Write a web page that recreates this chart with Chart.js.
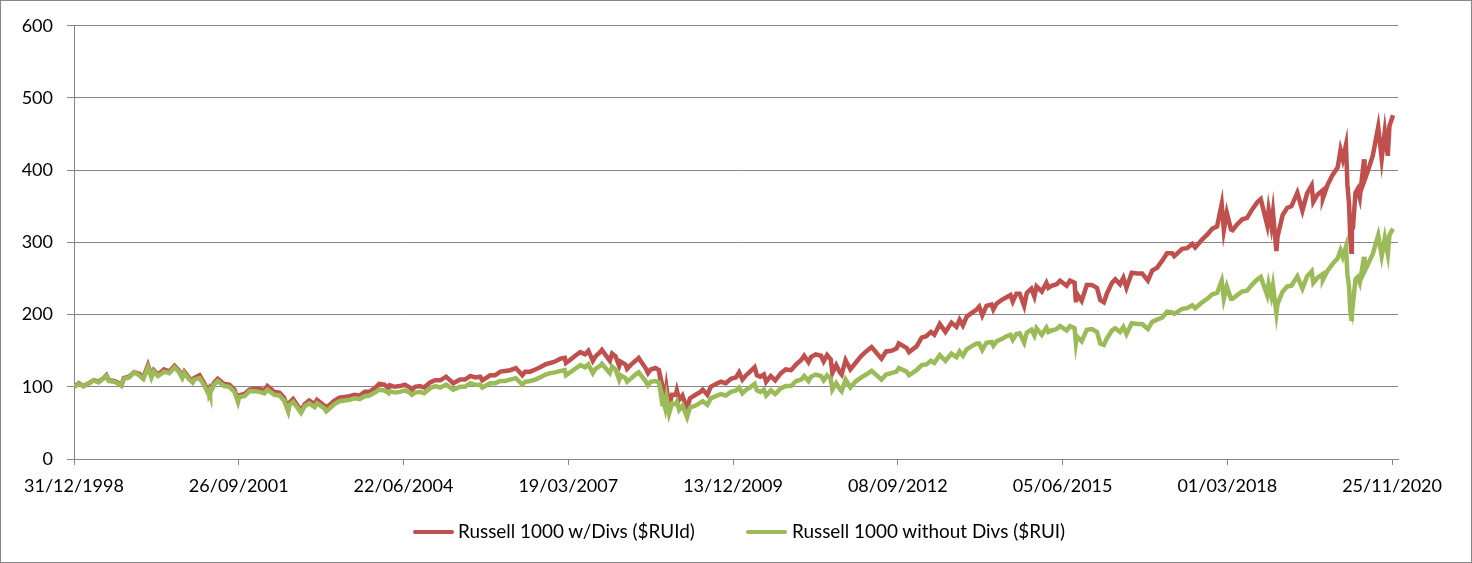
<!DOCTYPE html>
<html>
<head>
  <title>Russell 1000 with and without dividends</title>
  <script src="https://cdn.jsdelivr.net/npm/chart.js"></script>
  <style>
    body { margin: 0; background: #fff; }
    #frame {
      position: relative;
      width: 1472px; height: 563px;
      box-sizing: border-box;
      border: 1px solid #868686;
      background: #fff;
      font-family: Lato, sans-serif;
    }
    #chart { position: absolute; left: 0; top: 0; }
    .item { position: absolute; top: 518px; height: 24px; font-size: 18.9px; color: #000; white-space: nowrap; line-height: 24px; }
    .swatch { position: absolute; top: 11px; width: 41px; height: 3.5px; border-radius: 2px; }
  </style>
</head>
<body>
  <div id="frame">
    <canvas id="chart" width="1470" height="561"></canvas>
    <div class="item" style="left:412px"><span class="swatch" style="left:0;background:#C0504D"></span><span style="padding-left:45px">Russell 1000 w/Divs ($RUId)</span></div>
    <div class="item" style="left:745px"><span class="swatch" style="left:0;background:#9BBB59"></span><span style="padding-left:46px">Russell 1000 without Divs ($RUI)</span></div>
  </div>

  <script>
    // dates of the readings
    const dates = [
      '1998-12-31','1999-01-29','1999-02-26','1999-03-31','1999-04-30','1999-05-28','1999-06-30','1999-07-16','1999-07-30','1999-08-31','1999-09-30','1999-10-15','1999-10-29','1999-11-30','1999-12-31',
      '2000-01-31','2000-02-25','2000-03-24','2000-04-14','2000-04-28','2000-05-24','2000-06-30','2000-07-31','2000-09-01','2000-09-29','2000-10-18','2000-10-31','2000-11-30','2000-12-20','2000-12-29',
      '2001-01-31','2001-02-28','2001-03-22','2001-03-30','2001-04-04','2001-04-30','2001-05-21','2001-06-29','2001-07-31','2001-08-31','2001-09-21','2001-09-28','2001-10-31','2001-11-30','2001-12-31',
      '2002-01-31','2002-02-28','2002-03-19','2002-04-30','2002-05-31','2002-06-28','2002-07-23','2002-07-31','2002-08-22','2002-09-30','2002-10-09','2002-10-31','2002-11-27','2002-12-31',
      '2003-01-14','2003-02-28','2003-03-11','2003-03-31','2003-04-30','2003-05-30','2003-06-30','2003-07-31','2003-08-29','2003-09-30','2003-10-31','2003-11-28','2003-12-31',
      '2004-01-26','2004-02-27','2004-03-24','2004-03-31','2004-04-30','2004-05-31','2004-06-30','2004-07-30','2004-08-12','2004-08-31','2004-09-30','2004-10-25','2004-11-30','2004-12-31',
      '2005-01-31','2005-03-07','2005-04-20','2005-05-31','2005-06-30','2005-08-02','2005-08-31','2005-09-30','2005-10-13','2005-11-30','2005-12-30',
      '2006-01-31','2006-02-28','2006-03-31','2006-05-05','2006-06-13','2006-06-30','2006-07-31','2006-08-31','2006-09-29','2006-10-31','2006-11-30','2006-12-29',
      '2007-01-31','2007-02-26','2007-03-05','2007-03-30','2007-04-30','2007-05-31','2007-06-29','2007-07-19','2007-08-15','2007-08-31','2007-09-28','2007-10-09','2007-11-26','2007-12-10','2007-12-31',
      '2008-01-22','2008-01-31','2008-02-29','2008-03-10','2008-03-31','2008-04-30','2008-05-19','2008-06-30','2008-07-15','2008-07-31','2008-08-29','2008-09-19','2008-09-29','2008-10-10','2008-10-13','2008-10-27','2008-11-04','2008-11-20','2008-12-08','2008-12-31',
      '2009-01-06','2009-01-20','2009-02-09','2009-03-09','2009-03-26','2009-04-30','2009-05-29','2009-06-12','2009-07-10','2009-07-31','2009-08-31','2009-09-30','2009-10-30','2009-11-30','2009-12-31',
      '2010-01-19','2010-02-08','2010-02-26','2010-03-31','2010-04-23','2010-05-07','2010-05-28','2010-06-18','2010-07-02','2010-07-30','2010-08-26','2010-09-30','2010-10-29','2010-11-30','2010-12-31',
      '2011-01-31','2011-02-18','2011-03-16','2011-03-31','2011-04-29','2011-05-31','2011-06-16','2011-07-07','2011-07-29','2011-08-08','2011-08-31','2011-09-22','2011-10-03','2011-10-27','2011-11-25','2011-12-30',
      '2012-01-31','2012-02-29','2012-04-02','2012-06-01','2012-06-29','2012-07-31','2012-08-31','2012-09-14','2012-10-31','2012-11-15','2012-12-31',
      '2013-01-31','2013-02-28','2013-03-28','2013-04-18','2013-05-21','2013-06-24','2013-07-31','2013-08-30','2013-09-18','2013-10-08','2013-10-31','2013-11-29','2013-12-31',
      '2014-01-15','2014-02-03','2014-02-28','2014-03-31','2014-04-11','2014-04-30','2014-05-30','2014-06-30','2014-07-24','2014-08-07','2014-08-29','2014-09-18','2014-10-15','2014-10-31','2014-11-28','2014-12-16','2014-12-29',
      '2015-01-30','2015-02-27','2015-03-11','2015-03-31','2015-04-30','2015-05-21','2015-06-30','2015-07-20','2015-08-17','2015-08-25','2015-08-31','2015-09-29','2015-10-30','2015-11-30','2015-12-31',
      '2016-01-20','2016-02-11','2016-02-29','2016-03-31','2016-04-20','2016-05-19','2016-06-08','2016-06-27','2016-07-29','2016-08-31','2016-09-30','2016-11-04','2016-11-30','2016-12-30',
      '2017-01-31','2017-02-28','2017-03-31','2017-04-13','2017-05-31','2017-06-30','2017-07-31','2017-08-18','2017-09-29','2017-10-31','2017-11-30','2017-12-29',
      '2018-01-26','2018-02-08','2018-02-26','2018-03-23','2018-04-02','2018-04-30','2018-05-31','2018-06-29','2018-07-31','2018-08-31','2018-09-20','2018-10-29','2018-11-07','2018-11-23','2018-12-03','2018-12-24','2018-12-31',
      '2019-01-31','2019-02-28','2019-03-25','2019-04-30','2019-05-31','2019-06-28','2019-07-26','2019-08-05','2019-08-30','2019-09-30','2019-10-02','2019-10-31','2019-11-29','2019-12-31',
      '2020-01-17','2020-01-31','2020-02-19','2020-02-28','2020-03-09','2020-03-16','2020-03-23','2020-03-26','2020-04-01','2020-04-17','2020-04-30','2020-05-13','2020-06-08','2020-06-11','2020-06-30','2020-07-31','2020-09-02','2020-09-23','2020-10-12','2020-10-30','2020-11-09','2020-11-25','2020-12-01'
    ];

    // Russell 1000 w/Divs ($RUId), rebased to 100
    const withDivs = [
      100,105,101,105,109,107,112,116,109,108,105,102,112,114,120,
      118,113,130,115,123,117,124,121,129,122,114,121,112,107,112,
      116,105,95,98,94,106,111,104,103,96,82,88,90,96,97,
      97,95,101,93,92,85,68,78,83,70,67,76,81,76,
      82,74,71,75,81,85,86,87,89,88,93,93,98,
      104,103,98,102,100,101,103,99,96,100,101,99,106,109,
      109,114,105,110,110,115,113,114,109,116,116,
      121,122,123,126,116,121,121,124,127,131,133,135,
      139,140,133,137,143,148,145,150,136,142,148,151,136,146,142,
      129,135,131,125,130,136,140,126,119,124,126,123,108,88,98,83,99,74,89,89,
      95,82,88,69,84,89,93,96,89,100,104,107,105,111,113,
      120,110,115,122,127,116,114,117,107,115,109,119,124,123,131,
      137,143,134,141,145,143,135,144,138,119,130,120,117,137,124,134,
      143,149,155,139,149,150,153,160,154,148,156,
      168,170,176,172,187,176,189,183,193,185,197,202,207,
      211,199,212,214,207,215,220,224,227,218,229,229,212,230,236,225,239,
      232,244,237,240,242,247,240,247,244,217,229,219,241,241,237,
      220,217,229,244,249,242,251,237,258,257,257,247,261,265,
      275,285,285,281,291,292,298,293,304,311,319,322,
      353,317,341,318,317,325,332,334,346,356,360,324,345,323,342,288,308,
      338,348,350,369,344,368,379,356,366,372,361,380,393,404,
      428,415,435,380,353,307,287,338,318,369,374,362,415,386,398,420,460,416,454,420,461,472,476
    ];

    // Russell 1000 without Divs ($RUI), rebased to 100
    const withoutDivs = [
      100,104,101,105,109,106,112,115,108,107,104,102,111,113,120,
      116,111,127,113,121,115,121,119,127,120,112,119,110,106,110,
      112,102,92,95,91,103,108,101,100,93,79,86,87,94,94,
      93,91,96,89,88,81,66,75,79,67,64,73,77,72,
      77,70,66,70,76,80,81,82,84,83,87,88,92,
      96,95,91,94,92,93,95,92,89,92,93,91,98,101,
      99,103,96,100,100,105,103,103,99,105,105,
      108,108,110,112,103,107,108,110,113,117,119,120,
      122,123,116,120,125,130,127,131,119,125,129,132,119,128,124,
      110,116,112,107,111,117,120,108,102,107,108,106,93,76,84,71,85,63,77,76,
      79,68,74,58,71,74,78,80,75,84,87,90,88,93,95,
      99,91,95,100,104,95,93,96,88,95,90,98,101,101,108,
      110,115,108,114,117,115,109,116,111,96,105,97,94,110,99,108,
      113,117,122,110,117,119,121,126,121,116,123,
      130,131,136,133,144,136,146,141,149,143,152,156,160,
      160,151,161,162,157,163,166,170,172,165,173,174,161,175,179,171,181,
      172,182,176,178,180,184,178,184,181,161,170,163,179,180,176,
      160,158,167,178,181,176,183,173,188,187,187,180,190,193,
      196,204,203,201,208,209,213,209,217,222,228,230,
      247,222,239,222,222,227,232,233,242,249,252,227,242,226,240,202,215,
      232,239,240,253,236,253,260,244,251,256,248,261,270,278,
      289,280,294,256,238,207,194,228,214,249,252,244,280,260,269,284,310,281,306,284,310,317,319
    ];

    const yTicks = [0, 100, 200, 300, 400, 500, 600];
    const xTickDays = [0, 1000, 2000, 3000, 4000, 5000, 6000, 7000, 8000];

    const DAY = 86400000;
    const origin = Date.UTC(1998, 11, 31);
    function dayOf(s) {
      const [y, m, d] = s.split('-').map(Number);
      return (Date.UTC(y, m - 1, d) - origin) / DAY;
    }
    function label(day) {
      const d = new Date(origin + day * DAY);
      const p = n => String(n).padStart(2, '0');
      return p(d.getUTCDate()) + '/' + p(d.getUTCMonth() + 1) + '/' + d.getUTCFullYear();
    }

    const xs = dates.map(dayOf);
    const grey = '#868686';
    const font = { family: 'Lato', size: 18 };

    function draw() {
      new Chart(document.getElementById('chart'), {
        type: 'line',
        data: {
          datasets: [
            {
              label: 'Russell 1000 without Divs ($RUI)',
              data: xs.map((x, i) => ({ x: x, y: withoutDivs[i] })),
              borderColor: '#9BBB59',
              borderWidth: 4.5,
              pointRadius: 0,
              tension: 0
            },
            {
              label: 'Russell 1000 w/Divs ($RUId)',
              data: xs.map((x, i) => ({ x: x, y: withDivs[i] })),
              borderColor: '#C0504D',
              borderWidth: 4.5,
              pointRadius: 0,
              tension: 0
            }
          ]
        },
        options: {
          responsive: false,
          animation: false,
          layout: { padding: { left: 0, top: 23, right: 73, bottom: 0 } },
          plugins: { legend: { display: false }, tooltip: { enabled: false } },
          scales: {
            x: {
              type: 'linear',
              min: 0,
              max: 8036,
              afterFit: s => { s.height = 103; },
              afterBuildTicks: s => { s.ticks = xTickDays.map(v => ({ value: v })); },
              grid: { drawOnChartArea: false, drawTicks: true, tickLength: 6, color: grey },
              border: { color: grey },
              ticks: {
                autoSkip: false, maxRotation: 0, padding: 10,
                color: '#000', font: font,
                callback: v => label(v)
              }
            },
            y: {
              min: 0,
              max: 600,
              afterFit: s => { s.width = 73; },
              afterBuildTicks: s => { s.ticks = yTicks.map(v => ({ value: v })); },
              grid: { color: grey, tickLength: 7 },
              border: { color: grey },
              ticks: { padding: 14, color: '#000', font: font }
            }
          }
        }
      });
    }

    document.fonts.load('18px Lato').then(draw, draw);
  </script>
</body>
</html>
